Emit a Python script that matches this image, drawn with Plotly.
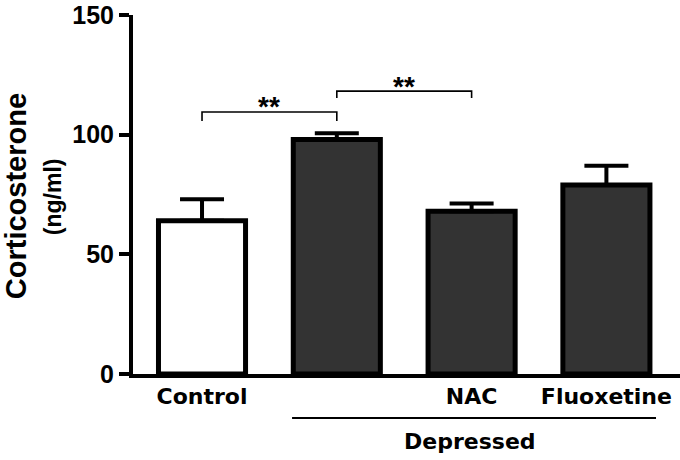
import plotly.graph_objects as go

# Data
categories = ["Control", "Depressed", "NAC", "Fluoxetine"]
tick_labels = ["Control", "", "NAC", "Fluoxetine"]
means = [64, 98, 68, 79]
sem = [9, 2.6, 3.2, 8]
bar_colors = ["#ffffff", "#333333", "#333333", "#333333"]

# Significance brackets: (left index, right index, bracket y, tick bottom y, star y, label)
brackets = [
    (0, 1, 109.5, 105.7, 111.6, "**"),
    (1, 2, 118.2, 115.3, 120.3, "**"),
]
group_label = "Depressed"

x_idx = list(range(len(categories)))

fig = go.Figure()
fig.add_trace(go.Bar(
    x=x_idx,
    y=means,
    width=0.646,
    marker=dict(color=bar_colors, line=dict(color="black", width=5)),
    error_y=dict(type="data", array=sem, arrayminus=[0] * len(sem), symmetric=False,
                 color="black", thickness=4, width=22),
    showlegend=False,
    hoverinfo="skip",
))

shapes = []
annotations = []
for (a, b, yb, yt, ys, lab) in brackets:
    shapes.append(dict(type="path", xref="x", yref="y",
                       path=f"M {a},{yt} L {a},{yb} L {b},{yb} L {b},{yt}",
                       line=dict(color="black", width=1.6)))
    annotations.append(dict(x=(a + b) / 2, y=ys, xref="x", yref="y", text=lab,
                            showarrow=False, xanchor="center", yanchor="middle",
                            font=dict(family="Liberation Sans", size=28, color="black", weight="bold")))

# Group underline for Depressed
shapes.append(dict(type="line", xref="x", yref="paper", x0=0.668, x1=3.368,
                   y0=-0.1226, y1=-0.1226, line=dict(color="black", width=2)))
annotations.append(dict(x=1.988, y=-0.189, xref="x", yref="paper", text=group_label,
                        showarrow=False, xanchor="center", yanchor="middle",
                        font=dict(family="DejaVu Sans", size=22, color="black", weight="bold")))

# Y title (two lines)
annotations.append(dict(x=-0.2135, y=0.4958, xref="paper", yref="paper", text="Corticosterone",
                        textangle=-90, showarrow=False, xanchor="center", yanchor="middle",
                        borderpad=0,
                        font=dict(family="Liberation Sans", size=29, color="black", weight="bold")))
annotations.append(dict(x=-0.146, y=0.493, xref="paper", yref="paper", text="(ng/ml)",
                        textangle=-90, showarrow=False, xanchor="center", yanchor="middle",
                        font=dict(family="Liberation Sans", size=23, color="black", weight="bold")))

fig.update_layout(
    width=680, height=460,
    margin=dict(l=133, r=0, t=15, b=86, autoexpand=False),
    paper_bgcolor="white", plot_bgcolor="white",
    shapes=shapes, annotations=annotations,
    xaxis=dict(range=[-0.512, 3.546], tickvals=x_idx, ticktext=tick_labels,
               showline=True, linecolor="black", linewidth=4, ticks="",
               showgrid=False, zeroline=False, automargin=False,
               tickfont=dict(family="DejaVu Sans", size=22, color="black", weight="bold")),
    yaxis=dict(range=[0, 150], tickvals=[0, 50, 100, 150],
               showline=True, linecolor="black", linewidth=4,
               ticks="outside", ticklen=10, tickwidth=4, tickcolor="black",
               showgrid=False, zeroline=False, automargin=False,
               tickfont=dict(family="Liberation Sans", size=25, color="black", weight="bold")),
)

fig.write_html("out.html", config={"displayModeBar": False},
               post_script="document.body.style.margin='0';document.body.style.padding='0';"
                           "document.body.style.overflow='hidden';")
